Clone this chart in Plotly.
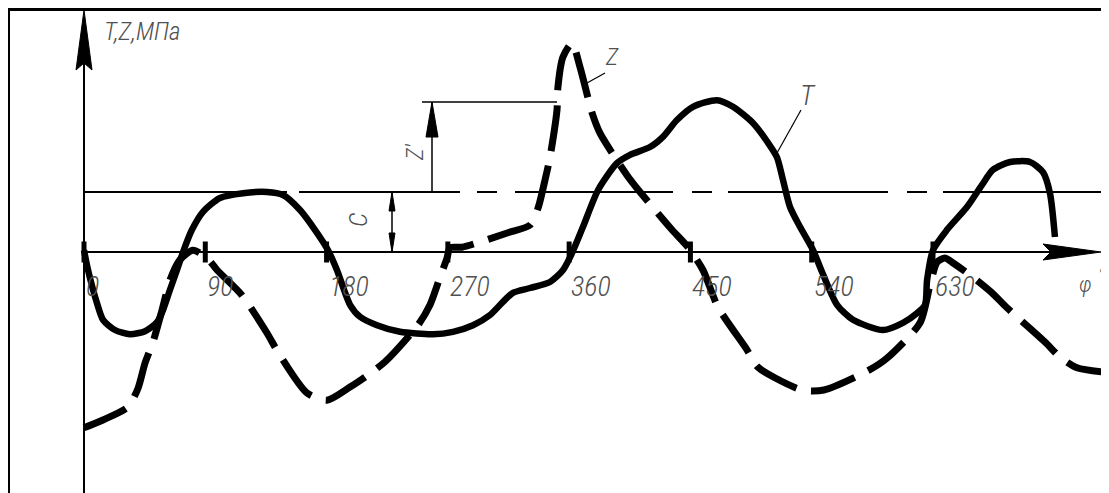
import plotly.graph_objects as go

# ---------------- data ----------------
phi_T = [0, 3.0, 9.6, 14.1, 23.0, 34.1, 45.3, 54.2, 58.6, 63.8, 69.0, 73.5, 80.1, 88.3,
         100.9, 118.0, 135.8, 147.7, 160.3, 172.9, 181.1, 187.7, 197.4, 204.8, 217.4,
         234.5, 259.0, 273.8, 288.7, 301.3, 310.9, 318.3, 331.0, 345.8, 355.5, 362.1,
         370.3, 381.4, 395.5, 405.2, 420.0, 429.6, 440.0, 451.9, 469.7, 481.6, 496.4,
         507.6, 514.2, 518.7, 523.9, 531.3, 541.0, 547.6, 558.8, 570.6, 592.9, 607.7,
         618.1, 624.1, 625.6, 630.0, 640.4, 655.2, 666.4, 674.5, 687.2, 702.0, 711.6,
         716.8, 720.5]
T_vals = [0.03, -0.30, -0.85, -1.13, -1.30, -1.37, -1.32, -1.17, -0.97, -0.63, -0.30, 0.0,
          0.37, 0.67, 0.90, 0.98, 1.00, 0.95, 0.70, 0.32, 0.03, -0.30, -0.88, -1.08, -1.22,
          -1.33, -1.37, -1.33, -1.22, -1.05, -0.83, -0.68, -0.60, -0.50, -0.30, -0.02,
          0.42, 1.03, 1.48, 1.62, 1.75, 1.92, 2.20, 2.42, 2.53, 2.42, 2.15, 1.82, 1.58,
          1.20, 0.75, 0.42, 0.03, -0.33, -0.88, -1.13, -1.30, -1.18, -1.02, -0.88, -0.47,
          0.03, 0.37, 0.75, 1.12, 1.37, 1.50, 1.50, 1.33, 0.98, 0.25]

phi_Z = [0, 14.1, 32.7, 40.1, 45.3, 51.2, 57.9, 63.8, 71.2, 80.9, 91.3, 98.7, 117.2,
         135.8, 144.0, 165.5, 180.3, 197.4, 210.7, 223.4, 247.8, 256.8, 264.2, 269.4,
         271.6, 280.5, 314.6, 331.0, 336.9, 342.1, 345.8, 351.0, 351.7, 355.4, 362.1,
         368.1, 377.0, 382.9, 402.9, 412.6, 436.3, 448.2, 459.3, 470.5, 492.0, 500.1,
         532.8, 549.1, 582.5, 595.9, 620.4, 627.8, 633.0, 638.9, 644.1, 659.7, 673.8,
         684.9, 713.1, 724.2, 736.9, 756.2]
Z_vals = [-2.93, -2.80, -2.58, -2.27, -1.85, -1.50, -0.97, -0.47, -0.13, 0.03, -0.10,
          -0.30, -0.72, -1.35, -1.67, -2.35, -2.47, -2.25, -2.05, -1.83, -1.22, -0.88,
          -0.42, -0.10, 0.07, 0.08, 0.32, 0.45, 0.73, 1.20, 1.58, 2.37, 2.75, 3.25, 3.48,
          3.08, 2.32, 1.98, 1.28, 1.00, 0.37, 0.08, -0.30, -0.92, -1.63, -1.92, -2.30,
          -2.30, -1.97, -1.77, -1.18, -0.55, -0.17, -0.10, -0.17, -0.42, -0.68, -0.93,
          -1.50, -1.75, -1.93, -2.00]

tick_degrees = [0, 90, 180, 270, 360, 450, 540, 630]
tick_labels = ["0", "90", "180", "270", "360", "450", "540", "630"]
C_level = 1.0          # constant component C
Z_prime_top = 2.5      # top of the z' dimension
axis_title = "T,Z,МПа"
x_title = "φ"

# ---------------- geometry / scales (screen pixels) ----------------
WIN_W, WIN_H = 1109, 493
PAGE_OFF = 8                      # default body margin of the html page
W, H = WIN_W - PAGE_OFF, WIN_H - PAGE_OFF
X0_PX, PX_PER_DEG = 84, 1.3476
Y0_PX, PX_PER_UNIT = 252, 60.0


def X(px):
    return (px - X0_PX) / PX_PER_DEG


def Y(py):
    return (Y0_PX - py) / PX_PER_UNIT


def dx(px):
    return px / PX_PER_DEG


def dy(px):
    return px / PX_PER_UNIT


FONT = "Roboto Condensed, Liberation Sans Narrow, DejaVu Sans Condensed, Roboto, sans-serif"
TXT = "#505050"

fig = go.Figure()

fig.add_trace(go.Scatter(x=phi_Z, y=Z_vals, mode="lines",
                         line=dict(color="black", width=7, dash="46px,15px",
                                   shape="spline", smoothing=0.7),
                         hoverinfo="skip", showlegend=False))
fig.add_trace(go.Scatter(x=phi_T, y=T_vals, mode="lines",
                         line=dict(color="black", width=6.5, shape="spline", smoothing=0.7),
                         hoverinfo="skip", showlegend=False))
fig.add_trace(go.Scatter(x=tick_degrees, y=[0] * len(tick_degrees), mode="markers",
                         marker=dict(symbol="line-ns", size=15,
                                     line=dict(color="black", width=5)),
                         hoverinfo="skip", showlegend=False))

shapes = []


def line(x0, y0, x1, y1, w=2, dash=None):
    d = dict(type="line", x0=x0, y0=y0, x1=x1, y1=y1, xref="x", yref="y",
             line=dict(color="black", width=w), layer="below")
    if dash:
        d["line"]["dash"] = dash
    shapes.append(d)


def poly(pts):
    path = "M " + " L ".join(f"{a},{b}" for a, b in pts) + " Z"
    shapes.append(dict(type="path", path=path, xref="x", yref="y",
                       fillcolor="black", line=dict(color="black", width=1)))


# frame
line(X(9), Y(9.5), X(9), Y(WIN_H + 5), w=2)
line(X(8), Y(9.5), X(1104), Y(9.5), w=3)
line(X(1103), Y(9), X(1103), Y(263), w=2)
line(X(1103), Y(302), X(1103), Y(WIN_H + 5), w=2)

# y axis with arrow
line(0, Y(WIN_H + 5), 0, Y(64), w=2)
poly([(0, Y(10)), (dx(8), Y(70)), (0, Y(63)), (-dx(8), Y(70))])
# x axis with arrow
line(0, 0, X(1050), 0, w=2)
poly([(X(1101), 0), (X(1043), dy(8)), (X(1051), 0), (X(1043), -dy(8))])

# C line (solid then long/short dashes)
line(0, C_level, X(1103), C_level, w=2,
     dash="203px,12px,161px,17px,20px,18px,158px,19px,20px,16px,160px,19px,20px,16px,200px")

# C dimension
xc = X(392)
line(xc, 0, xc, C_level, w=1.5)
poly([(xc, C_level), (xc + dx(3), C_level - dy(19)), (xc - dx(3), C_level - dy(19))])
poly([(xc, 0), (xc + dx(3), dy(19)), (xc - dx(3), dy(19))])

# z' dimension
xz = X(432)
line(xz, C_level, xz, Z_prime_top, w=1.5)
line(X(422), Z_prime_top, X(557), Z_prime_top, w=1.5)
poly([(xz, Z_prime_top), (xz + dx(6), Z_prime_top - dy(35)), (xz - dx(6), Z_prime_top - dy(35))])

# leader lines
line(X(587), Y(83), X(605), Y(73), w=1.2)
line(X(777), Y(153), X(801), Y(110), w=1.2)

fig.update_layout(shapes=shapes)

ann = []


def text(x, y, s, size, xanchor="center", angle=0):
    ann.append(dict(x=x, y=y, text=s, showarrow=False, xanchor=xanchor, yanchor="middle",
                    textangle=angle, xref="x", yref="y",
                    font=dict(family=FONT, size=size, color=TXT, style="italic", weight=300)))


for d, lab in zip(tick_degrees, tick_labels):
    text(d, Y(286), lab, 28, xanchor="left")

text(X(102), Y(31), axis_title, 25, xanchor="left")
text(X(1085), Y(284), x_title, 22)
text(X(1101), Y(275), "°", 18)
text(X(612), Y(57), "Z", 24)
text(X(808), Y(95), "T", 28)
text(X(358), Y(220), "C", 26, angle=-90)
text(X(415), Y(152), "Z′", 23, angle=-90)

fig.update_layout(
    annotations=ann,
    width=W, height=H,
    margin=dict(l=0, r=0, t=0, b=0),
    paper_bgcolor="white", plot_bgcolor="white",
    xaxis=dict(range=[X(PAGE_OFF), X(PAGE_OFF + W)], visible=False, fixedrange=True),
    yaxis=dict(range=[Y(PAGE_OFF + H), Y(PAGE_OFF)], visible=False, fixedrange=True),
    showlegend=False,
)

fig.write_html("out.html")
